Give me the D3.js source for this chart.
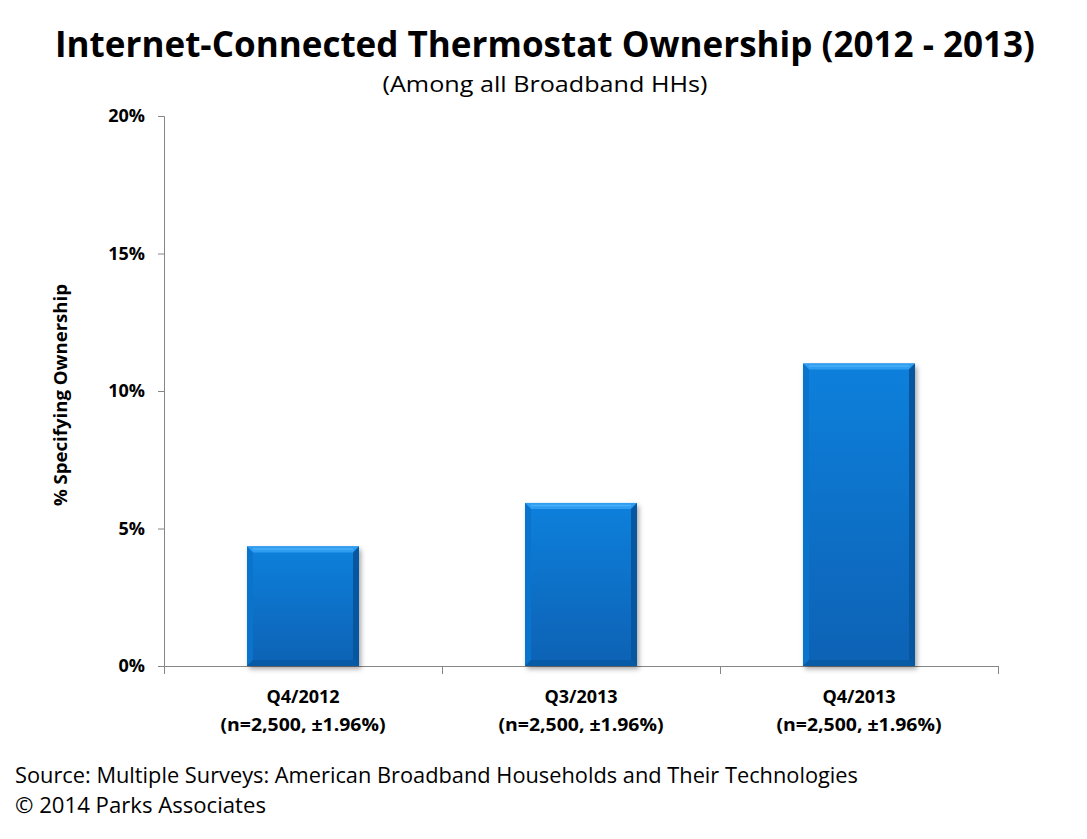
<!DOCTYPE html>
<html><head><meta charset="utf-8">
<script src="https://cdn.jsdelivr.net/npm/d3@7"></script>
<style>body{margin:0;background:#fff}svg{display:block}text{font-family:"Open Sans",Lato,sans-serif}</style>
</head><body>
<script>
const categories = ["Q4/2012", "Q3/2013", "Q4/2013"];
const sublabels = ["(n=2,500, \u00b11.96%)", "(n=2,500, \u00b11.96%)", "(n=2,500, \u00b11.96%)"];
const values = [4.35, 5.93, 11.0];
const yTicks = [0, 5, 10, 15, 20];

const W = 1087, H = 839;
const svg = d3.select("body").append("svg").attr("width", W).attr("height", H);
const defs = svg.append("defs");
const g1 = defs.append("linearGradient").attr("id","bg").attr("x1",0).attr("y1",0).attr("x2",0).attr("y2",1);
g1.append("stop").attr("offset","0%").attr("stop-color","#0a80dc");
g1.append("stop").attr("offset","100%").attr("stop-color","#0862b4");
const f = defs.append("filter").attr("id","sh").attr("x","-10%").attr("y","-10%").attr("width","130%").attr("height","130%");
f.append("feDropShadow").attr("dx",2).attr("dy",3).attr("stdDeviation",2.5).attr("flood-color","#000").attr("flood-opacity",0.35);

const x = d3.scaleBand().domain(categories).range([164, 998]).paddingInner(0).paddingOuter(0);
const y = d3.scaleLinear().domain([0, 20]).range([666, 116]);
const bw = 112;

// title
svg.append("text").attr("x", 545).attr("y", 57).attr("text-anchor","middle")
  .attr("font-size", 35).attr("font-weight","bold").attr("fill","#000")
  .attr("textLength", 980).attr("lengthAdjust","spacingAndGlyphs")
  .text("Internet-Connected Thermostat Ownership (2012 - 2013)");
svg.append("text").attr("x", 545).attr("y", 92).attr("text-anchor","middle")
  .attr("font-size", 22).attr("fill","#000")
  .attr("textLength", 325).attr("lengthAdjust","spacingAndGlyphs")
  .text("(Among all Broadband HHs)");

// y axis
const yAxis = svg.append("g").attr("transform","translate(164,0)")
  .call(d3.axisLeft(y).tickValues(yTicks).tickSize(6).tickFormat(d => d + "%"));
yAxis.select(".domain").attr("stroke","#868686").attr("d","M-6,116.5H0.5V666.5");
yAxis.selectAll(".tick line").attr("stroke","#868686");
yAxis.selectAll(".tick text").attr("font-size",18).attr("font-weight","bold").attr("fill","#000")
  .attr("x",-19).attr("font-family",'"Open Sans",sans-serif');

// x axis
const xa = svg.append("g");
xa.append("line").attr("x1",164).attr("x2",998).attr("y1",666.5).attr("y2",666.5).attr("stroke","#868686");
const bounds = categories.map(c => x(c)).concat([x(categories[categories.length-1]) + x.bandwidth()]);
xa.selectAll(".bt").data(bounds).join("line").attr("x1",d=>Math.round(d)+0.5).attr("x2",d=>Math.round(d)+0.5)
  .attr("y1",666).attr("y2",674).attr("stroke","#868686");

// bars
const bars = svg.append("g").selectAll("g").data(values).join("g");
bars.each(function(v, i){
  const gx = x(categories[i]) + x.bandwidth()/2 - bw/2;
  const gy = y(v), h = y(0) - y(v);
  const g = d3.select(this);
  g.append("rect").attr("x",gx).attr("y",gy).attr("width",bw).attr("height",h)
    .attr("fill","url(#bg)").attr("filter","url(#sh)");
  const b = 6;
  // top bevel
  g.append("path").attr("d",`M${gx},${gy}H${gx+bw}L${gx+bw-b},${gy+b}H${gx+b}Z`).attr("fill","#2e9cf0");
  g.append("line").attr("x1",gx+b).attr("x2",gx+bw-b).attr("y1",gy+2.5).attr("y2",gy+2.5).attr("stroke","#49b0f8").attr("stroke-width",1.5);
  // left bevel
  g.append("path").attr("d",`M${gx},${gy}L${gx+b},${gy+b}V${gy+h-b}L${gx},${gy+h}Z`).attr("fill","#0a74cc");
  // right bevel
  g.append("path").attr("d",`M${gx+bw},${gy}L${gx+bw-b},${gy+b}V${gy+h-b}L${gx+bw},${gy+h}Z`).attr("fill","#0656a0");
  // bottom bevel
  g.append("path").attr("d",`M${gx},${gy+h}L${gx+b},${gy+h-b}H${gx+bw-b}L${gx+bw},${gy+h}Z`).attr("fill","#065aa6");
});

// x labels
const xl = svg.append("g").selectAll("g").data(categories).join("g");
xl.append("text").attr("x", d => x(d) + x.bandwidth()/2).attr("y", 703).attr("text-anchor","middle")
  .attr("font-size",18).attr("font-weight","bold").text(d => d);
xl.append("text").attr("x", d => x(d) + x.bandwidth()/2).attr("y", 731).attr("text-anchor","middle")
  .attr("font-size",18).attr("font-weight","bold")
  .attr("textLength",165).attr("lengthAdjust","spacingAndGlyphs")
  .text((d,i) => sublabels[i]);

// y title
svg.append("text").attr("transform","translate(67,395) rotate(-90)").attr("text-anchor","middle")
  .attr("font-size",17).attr("font-weight","bold")
  .attr("textLength",222).attr("lengthAdjust","spacingAndGlyphs")
  .text("% Specifying Ownership");

// source
svg.append("text").attr("x",15).attr("y",783).attr("font-size",21)
  .attr("textLength",843).attr("lengthAdjust","spacingAndGlyphs")
  .text("Source: Multiple Surveys: American Broadband Households and Their Technologies");
svg.append("text").attr("x",15).attr("y",813).attr("font-size",21)
  .attr("textLength",251).attr("lengthAdjust","spacingAndGlyphs")
  .text("\u00a9 2014 Parks Associates");
</script>
</body></html>
